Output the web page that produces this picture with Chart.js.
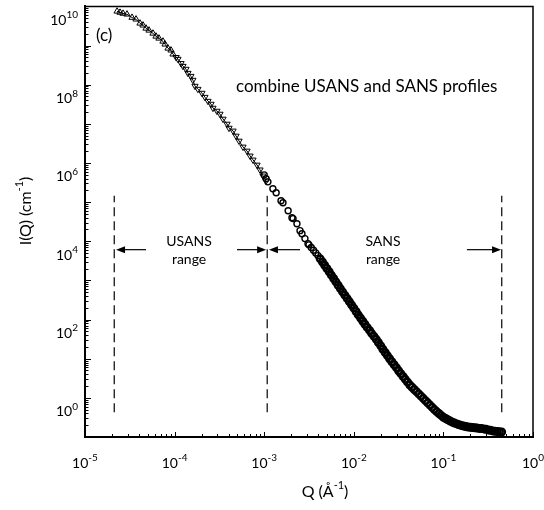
<!DOCTYPE html>
<html><head><meta charset="utf-8">
<script src="https://cdn.jsdelivr.net/npm/chart.js@4.4.1/dist/chart.umd.min.js"></script>
<style>html,body{margin:0;padding:0;background:#fff}canvas{display:block}</style>
</head><body>
<canvas id="c" width="544" height="510"></canvas>
<script>
// USANS profile (triangles), Q in 1/Å, I in 1/cm
const usansQ = [2.28e-5, 2.46e-5, 2.66e-5, 2.94e-5, 3.35e-5, 3.71e-5, 4.11e-5, 4.44e-5, 4.80e-5, 5.18e-5,
  5.74e-5, 6.20e-5, 6.69e-5, 7.42e-5, 7.82e-5, 8.44e-5, 9.12e-5, 9.60e-5, 1.04e-4, 1.09e-4,
  1.18e-4, 1.24e-4, 1.34e-4, 1.41e-4, 1.52e-4, 1.60e-4,
  1.69e-4, 1.82e-4, 2.02e-4, 2.18e-4, 2.36e-4, 2.55e-4, 2.68e-4, 2.97e-4, 3.21e-4, 3.47e-4,
  3.85e-4, 4.05e-4, 4.49e-4, 4.85e-4, 5.24e-4, 5.80e-4, 6.43e-4, 6.95e-4, 7.50e-4, 8.32e-4,
  8.98e-4, 9.70e-4, 1.05e-3];
const usansI = [7.5e9, 7.0e9, 6.6e9, 6.3e9, 5.2e9, 4.7e9, 3.7e9, 3.3e9, 2.75e9, 2.45e9,
  2.05e9, 1.72e9, 1.53e9, 1.28e9, 1.08e9, 8.5e8, 7.6e8, 6.0e8, 5.0e8, 4.5e8,
  3.5e8, 2.97e8, 2.5e8, 1.97e8, 1.65e8, 1.31e8,
  9.2e7, 7.7e7, 6.1e7, 4.8e7, 3.8e7, 3.2e7, 2.53e7, 2.12e7, 1.78e7, 1.33e7,
  9.9e6, 7.8e6, 6.6e6, 4.9e6, 3.65e6, 2.57e6, 2.03e6, 1.52e6, 1.20e6, 8.9e5,
  6.7e5, 4.7e5, 3.5e5];

// SANS profile (circles)
const sansQ = [1.00e-3, 1.05e-3, 1.10e-3, 1.25e-3, 1.36e-3, 1.54e-3, 1.62e-3, 1.85e-3, 2.04e-3, 2.10e-3,
  2.32e-3, 2.51e-3, 2.64e-3, 2.85e-3, 3.08e-3,
  3.16e-3, 3.35e-3, 3.55e-3, 3.76e-3, 3.98e-3, 4.22e-3, 4.47e-3, 4.73e-3, 5.01e-3, 5.31e-3,
  5.62e-3, 5.96e-3, 6.31e-3, 6.68e-3, 7.08e-3, 7.50e-3, 7.94e-3, 8.41e-3, 8.91e-3, 9.44e-3,
  0.0100, 0.0106, 0.0112, 0.0119, 0.0126, 0.0133, 0.0141, 0.0150, 0.0158, 0.0168,
  0.0178, 0.0188, 0.0200, 0.0211, 0.0224, 0.0237, 0.0251, 0.0266, 0.0282, 0.0299,
  0.0316, 0.0335, 0.0355, 0.0376, 0.0398, 0.0422, 0.0447, 0.0473, 0.0501, 0.0531,
  0.0562, 0.0596, 0.0631, 0.0668, 0.0708, 0.0750, 0.0794, 0.0841, 0.0891, 0.0944,
  0.100, 0.106, 0.112, 0.119, 0.126, 0.133, 0.141, 0.150, 0.158, 0.168,
  0.178, 0.188, 0.200, 0.211, 0.224, 0.237, 0.251, 0.266, 0.282, 0.299,
  0.316, 0.335, 0.355, 0.376, 0.398, 0.422, 0.447];
const sansI = [4.98e5, 3.94e5, 3.30e5, 2.19e5, 1.73e5, 1.08e5, 9.6e4, 6.0e4, 4.0e4, 3.8e4,
  2.8e4, 1.87e4, 1.56e4, 1.17e4, 8.7e3,
  8110, 6920, 5900, 5050, 4310, 3560, 2950, 2440, 2020, 1660,
  1360, 1120, 918, 753, 618, 508, 420, 348, 288, 238,
  196, 161, 132, 109, 90.6, 75.7, 63.1, 52.8, 44.5, 37.3,
  31.3, 25.9, 21.3, 17.5, 14.4, 12.0, 10.0, 8.39, 7.03, 5.90,
  4.94, 4.15, 3.50, 2.97, 2.52, 2.13, 1.87, 1.64, 1.44, 1.26,
  1.11, 0.971, 0.849, 0.745, 0.653, 0.573, 0.502, 0.446, 0.398, 0.356,
  0.319, 0.296, 0.275, 0.256, 0.239, 0.227, 0.216, 0.206, 0.198, 0.191,
  0.185, 0.179, 0.177, 0.174, 0.172, 0.169, 0.166, 0.164, 0.161, 0.157,
  0.152, 0.148, 0.143, 0.140, 0.138, 0.136, 0.134];

// Instrument ranges: dashed limits and arrows
const rangeEdges = [2.12e-5, 1.08e-3, 0.448];
const edgeSpan = [0.43, 1.45e5];
const rangeArrows = [[4.8e-5, 2.22e-5], [4.97e-4, 1.05e-3], [2.51e-3, 1.13e-3], [0.183, 0.44]];
const arrowLevel = 6.1e3;
const rangeNames = ['USANS', 'SANS'];
const rangeNameQ = [1.45e-4, 2.12e-2];

// Axis tick labels (powers of ten)
const xExponents = ['-5', '-4', '-3', '-2', '-1', '0'];
const yExponents = ['10', '8', '6', '4', '2', '0'];

const FONT = 'Lato, "Open Sans", sans-serif';

function drawRuns(ctx, runs, x, y, align, size) {
  const supSize = Math.round(size * 0.68);
  let total = 0;
  const widths = runs.map(r => {
    ctx.font = (r.sup ? supSize : size) + 'px ' + FONT;
    const w = ctx.measureText(r.t).width;
    total += w;
    return w;
  });
  let sx = align === 'right' ? x - total : align === 'center' ? x - total / 2 : x;
  ctx.textAlign = 'left';
  ctx.textBaseline = 'middle';
  runs.forEach((r, i) => {
    ctx.font = (r.sup ? supSize : size) + 'px ' + FONT;
    ctx.fillText(r.t, sx, r.sup ? y - size * 0.38 : y);
    sx += widths[i];
  });
}

function arrow(ctx, x0, x1, y) {
  const dir = Math.sign(x1 - x0);
  ctx.beginPath();
  ctx.moveTo(x0, y);
  ctx.lineTo(x1 - dir * 7, y);
  ctx.stroke();
  ctx.beginPath();
  ctx.moveTo(x1, y);
  ctx.lineTo(x1 - dir * 9, y - 3.5);
  ctx.lineTo(x1 - dir * 9, y + 3.5);
  ctx.closePath();
  ctx.fill();
}

const decor = {
  id: 'decor',
  afterDraw(chart) {
    const { ctx, chartArea: a, scales: { x, y } } = chart;
    ctx.save();
    ctx.strokeStyle = '#000';
    ctx.fillStyle = '#000';

    // top and right frame
    ctx.lineWidth = 1.5;
    ctx.beginPath();
    ctx.moveTo(a.left, a.top);
    ctx.lineTo(a.right, a.top);
    ctx.lineTo(a.right, a.bottom);
    ctx.stroke();

    // inward log ticks
    ctx.lineWidth = 1;
    ctx.beginPath();
    for (let p = -5; p <= 0; p++) {
      for (let m = 1; m <= 9; m++) {
        const v = m * Math.pow(10, p);
        if (v > 1.0001) break;
        const px = Math.round(x.getPixelForValue(v)) + 0.5;
        const len = m === 1 ? 5 : 3;
        ctx.moveTo(px, a.bottom);
        ctx.lineTo(px, a.bottom - len);
      }
    }
    for (let p = -1; p <= 10; p++) {
      for (let m = 1; m <= 9; m++) {
        const v = m * Math.pow(10, p);
        if (v > 1.0001e10) break;
        const py = Math.round(y.getPixelForValue(v)) + 0.5;
        const len = m === 1 ? 6 : 3.5;
        ctx.moveTo(a.left, py);
        ctx.lineTo(a.left + len, py);
      }
    }
    ctx.stroke();

    // tick labels
    xExponents.forEach(e => {
      const px = x.getPixelForValue(Math.pow(10, Number(e)));
      drawRuns(ctx, [{ t: '10' }, { t: e, sup: true }], px, 463, 'center', 14);
    });
    yExponents.forEach(e => {
      const py = y.getPixelForValue(Math.pow(10, Number(e)));
      drawRuns(ctx, [{ t: '10' }, { t: e, sup: true }], 78, py + 14, 'right', 14);
    });

    // axis titles
    drawRuns(ctx, [{ t: 'Q (Å' }, { t: '-1', sup: true }, { t: ')' }], 325, 492, 'center', 16);
    ctx.save();
    ctx.translate(26, 211);
    ctx.rotate(-Math.PI / 2);
    drawRuns(ctx, [{ t: 'I(Q) (cm' }, { t: '-1', sup: true }, { t: ')' }], 0, 0, 'center', 16);
    ctx.restore();

    // range arrows and names
    ctx.lineWidth = 1.2;
    const ay = y.getPixelForValue(arrowLevel);
    rangeArrows.forEach(([q0, q1]) => arrow(ctx, x.getPixelForValue(q0), x.getPixelForValue(q1), ay));
    rangeNames.forEach((n, i) => {
      const px = x.getPixelForValue(rangeNameQ[i]);
      drawRuns(ctx, [{ t: n }], px, ay - 8, 'center', 14);
      drawRuns(ctx, [{ t: 'range' }], px, ay + 10, 'center', 14);
    });

    // panel tag and caption
    drawRuns(ctx, [{ t: '(c)' }], 96, 36, 'left', 17);
    drawRuns(ctx, [{ t: 'combine USANS and SANS profiles' }], 236, 87, 'left', 17);
    ctx.restore();
  }
};

const pairs = (qs, is) => qs.map((q, i) => ({ x: q, y: is[i] }));
const edgeSets = rangeEdges.map(q => ({
  data: [{ x: q, y: edgeSpan[0] }, { x: q, y: edgeSpan[1] }],
  showLine: true, pointRadius: 0, borderColor: '#000', borderWidth: 1.2, borderDash: [9, 5]
}));

// open circles merge into a solid band where the SANS points crowd together
const crowded = c => c.raw && c.raw.x > 4.0e-3;

new Chart(document.getElementById('c'), {
  type: 'scatter',
  data: {
    datasets: [
      {
        label: 'USANS',
        data: pairs(usansQ, usansI),
        showLine: true, borderColor: '#000', borderWidth: 1,
        pointStyle: 'triangle', pointRadius: 3.6,
        pointRotation: c => (c.raw && c.raw.x > 1.0e-4 ? 180 : 0),
        pointBackgroundColor: 'rgba(0,0,0,0)', pointBorderColor: '#000', pointBorderWidth: 1
      },
      {
        label: 'SANS',
        data: pairs(sansQ, sansI),
        pointStyle: 'circle',
        pointRadius: c => (crowded(c) ? 3.3 : 3),
        pointBackgroundColor: 'rgba(0,0,0,0)', pointBorderColor: '#000',
        pointBorderWidth: c => (crowded(c) ? 2.4 : 1.4)
      },
      ...edgeSets
    ]
  },
  options: {
    responsive: false,
    animation: false,
    events: [],
    layout: { padding: { left: 0, right: 11, top: 5, bottom: 0 } },
    plugins: { legend: { display: false }, tooltip: { enabled: false } },
    scales: {
      x: {
        type: 'logarithmic', min: 1e-5, max: 1,
        grid: { display: false },
        border: { display: true, color: '#000', width: 2 },
        ticks: { display: false },
        afterFit: s => { s.height = 73; }
      },
      y: {
        type: 'logarithmic', min: 0.1, max: 1e10,
        grid: { display: false },
        border: { display: true, color: '#000', width: 2 },
        ticks: { display: false },
        afterFit: s => { s.width = 85; }
      }
    }
  },
  plugins: [decor]
});
</script>
</body></html>
